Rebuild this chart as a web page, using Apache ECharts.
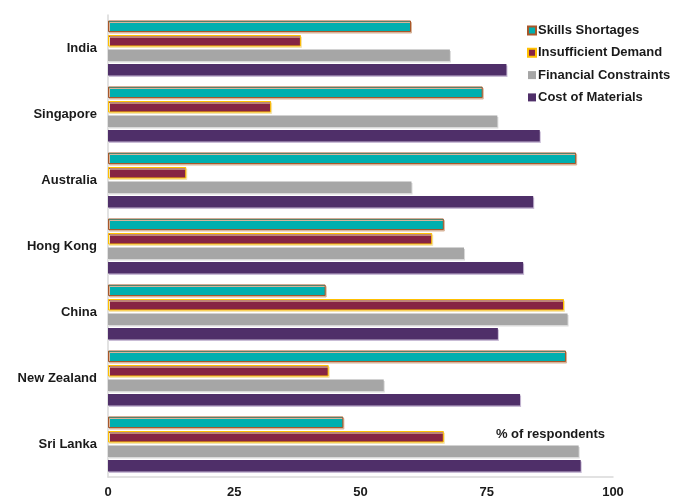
<!DOCTYPE html>
<html>
<head>
<meta charset="utf-8">
<script src="https://cdn.jsdelivr.net/npm/echarts@6/dist/echarts.min.js"></script>
<style>html,body{margin:0;padding:0;background:#fff}#c{width:677px;height:500px}</style>
</head>
<body>
<div id="c"></div>
<script>
const categories = ["India", "Singapore", "Australia", "Hong Kong", "China", "New Zealand", "Sri Lanka"];
const skillsShortages = [60, 74.2, 92.7, 66.5, 43.1, 90.7, 46.6];
const insufficientDemand = [38.2, 32.3, 15.5, 64.2, 90.3, 43.7, 66.5];
const financialConstraints = [67.7, 77.1, 60.1, 70.5, 91.0, 54.6, 93.2];
const costOfMaterials = [78.9, 85.5, 84.2, 82.2, 77.2, 81.6, 93.6];
const xTicks = [0, 25, 50, 75, 100];
const axisTitle = "% of respondents";

const FONT = "Liberation Sans, Arial, sans-serif";
const chart = echarts.init(document.getElementById('c'));

function mk(name, data, color, border, shadow) {
  return {
    name: name, type: 'bar', data: data,
    barWidth: 11.5, barGap: '26%', barCategoryGap: '17%',
    itemStyle: { color: color, borderColor: border, borderWidth: border ? 1 : 0,
      shadowColor: shadow, shadowOffsetX: 1, shadowOffsetY: 1.5, shadowBlur: 0 },
    emphasis: { disabled: true }, animation: false
  };
}

chart.setOption({
  animation: false,
  grid: { left: 108, right: 64, top: 15, bottom: 23, containLabel: false },
  legend: {
    orient: 'vertical', left: 522, top: 19, itemWidth: 8, itemHeight: 8, itemGap: 9.3,
    icon: 'rect',
    textStyle: { fontFamily: FONT, fontWeight: 'bold', fontSize: 13, color: '#1a1a1a', padding: [0,0,0,-3] },
    data: ['Skills Shortages', 'Insufficient Demand', 'Financial Constraints', 'Cost of Materials']
  },
  xAxis: {
    type: 'value', min: xTicks[0], max: xTicks[xTicks.length - 1], interval: 25,
    axisLine: { show: true, lineStyle: { color: '#d9d9d9', width: 1.5 } },
    axisTick: { show: false }, splitLine: { show: false },
    axisLabel: { fontFamily: FONT, fontWeight: 'bold', fontSize: 13, color: '#1a1a1a', margin: 9 }
  },
  yAxis: {
    type: 'category', data: categories, inverse: true,
    axisLine: { show: true, lineStyle: { color: '#d9d9d9', width: 1.5 } },
    axisTick: { show: false },
    axisLabel: { fontFamily: FONT, fontWeight: 'bold', fontSize: 13, color: '#1a1a1a', margin: 11 }
  },
  graphic: [{ type: 'text', right: 72, top: 428,
    style: { text: axisTitle, font: 'bold 13px ' + FONT, fill: '#1a1a1a' } }],
  series: [
    mk('Skills Shortages', skillsShortages, '#00afaf', '#a8572a', '#d8b49a'),
    mk('Insufficient Demand', insufficientDemand, '#862443', '#ffc000', '#f3e3b0'),
    mk('Financial Constraints', financialConstraints, '#a6a6a6', null, '#d9d9d9'),
    mk('Cost of Materials', costOfMaterials, '#4f2f69', null, '#c9bcd6')
  ]
});
</script>
</body>
</html>
